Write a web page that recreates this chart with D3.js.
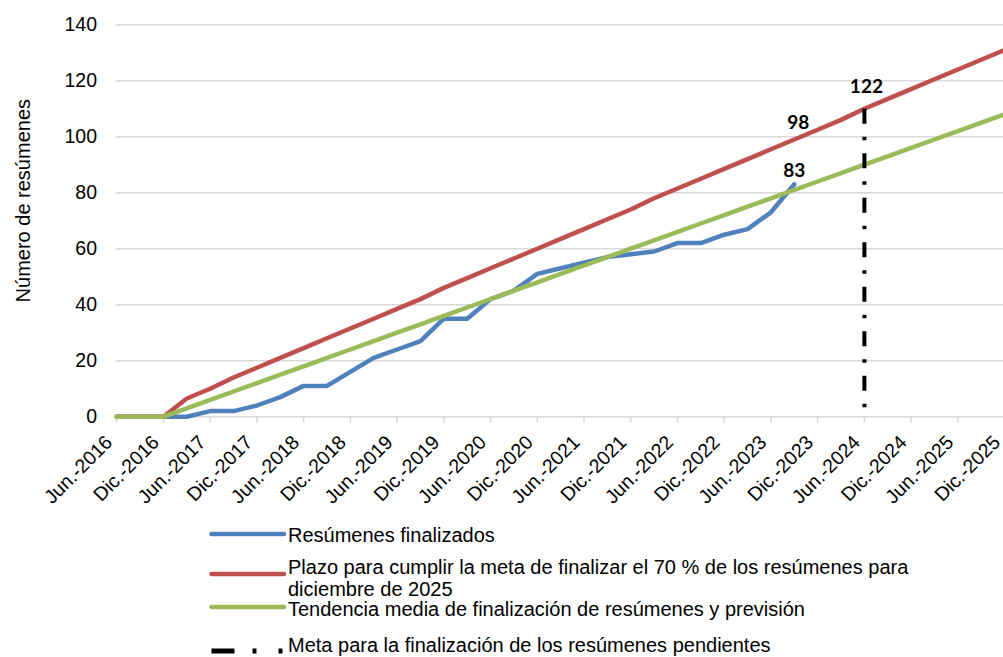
<!DOCTYPE html>
<html>
<head>
<meta charset="utf-8">
<script src="https://cdn.jsdelivr.net/npm/d3@7"></script>
<style>
  body { margin: 0; background: #fff; }
  text { font-family: "Liberation Sans", Arial, sans-serif; fill: #000; }
  .valLabel { font-family: Lato, "Liberation Sans", sans-serif; font-weight: bold; }
</style>
</head>
<body>
<div id="chart"></div>
<script>
const svgWidth = 1003;
const svgHeight = 657;

// tick labels every half year, data points every quarter (Jun.-2016 = index 0)
const tickLabels = ["Jun.-2016", "Dic.-2016", "Jun.-2017", "Dic.-2017", "Jun.-2018", "Dic.-2018",
  "Jun.-2019", "Dic.-2019", "Jun.-2020", "Dic.-2020", "Jun.-2021", "Dic.-2021", "Jun.-2022",
  "Dic.-2022", "Jun.-2023", "Dic.-2023", "Jun.-2024", "Dic.-2024", "Jun.-2025", "Dic.-2025"];

const finalizados = [0, 0, 0, 0, 2, 2, 4, 7, 11, 11, 16, 21, 24, 27, 35, 35, 42, 45, 51, 53,
  55, 57, 58, 59, 62, 62, 65, 67, 73, 83];

const plazo = [0, 0, 0, 6.5, 10, 14, 17.5, 21, 24.5, 28, 31.5, 35, 38.5, 42, 46, 49.5, 53, 56.5,
  60, 63.5, 67, 70.5, 74, 78, 81.5, 85, 88.5, 92, 95.5, 99, 102.5, 106, 110, 113.5, 117, 120.5,
  124, 127.5, 131];

const tendencia = [0, 0, 0, 3, 6, 9, 12, 15, 18, 21, 24, 27, 30, 33, 36, 39, 42, 45, 48, 51, 54,
  57, 60, 63, 66, 69, 72, 75, 78, 81, 84, 87, 90, 93, 96, 99, 102, 105, 108];

// vertical goal line (Jun.-2024)
const metaIdx = 32;
const metaTop = 110;

const yTicks = [0, 20, 40, 60, 80, 100, 120, 140];

const labelTexts = ["83", "98", "122"];
const labelIdx = [29, 29, 32];
const labelVals = [83, 99, 110];

const legendNames = [
  ["Resúmenes finalizados"],
  ["Plazo para cumplir la meta de finalizar el 70 % de los resúmenes para", "diciembre de 2025"],
  ["Tendencia media de finalización de resúmenes y previsión"],
  ["Meta para la finalización de los resúmenes pendientes"]
];

const colors = { blue: "#4F81BD", red: "#C0504D", green: "#9BBB59", black: "#000" };

const svg = d3.select("#chart")
  .append("svg")
  .attr("width", svgWidth)
  .attr("height", svgHeight);

const x = d3.scaleLinear()
  .domain([0, 38])
  .range([116.7, 1004.6]);

const y = d3.scaleLinear()
  .domain([0, 140])
  .range([416.7, 24.7]);

// gridlines
svg.append("g")
  .selectAll("line")
  .data(yTicks)
  .join("line")
  .attr("x1", 116)
  .attr("x2", svgWidth)
  .attr("y1", d => y(d))
  .attr("y2", d => y(d))
  .attr("stroke", "#d9d9d9")
  .attr("stroke-width", 1.5);

// y axis labels
const leftAxis = d3.axisLeft(y).tickValues(yTicks).tickSize(0).tickPadding(0);
const gy = svg.append("g")
  .attr("transform", "translate(97,0)")
  .call(leftAxis);
gy.select(".domain").remove();
gy.selectAll("text")
  .attr("font-size", "19.5px")
  .attr("font-family", "Liberation Sans, Arial, sans-serif")
  .attr("fill", "#000");

// x axis: tick marks + rotated labels
const tickIdx = tickLabels.map((d, i) => i * 2);
const gx = svg.append("g");
gx.selectAll("line")
  .data(tickIdx)
  .join("line")
  .attr("x1", d => x(d))
  .attr("x2", d => x(d))
  .attr("y1", y(0))
  .attr("y2", y(0) + 6)
  .attr("stroke", "#d9d9d9")
  .attr("stroke-width", 1.5);

gx.selectAll("text")
  .data(tickLabels)
  .join("text")
  .attr("transform", (d, i) => `translate(${x(i * 2) - 8}, ${y(0) + 22}) rotate(-45)`)
  .attr("text-anchor", "end")
  .attr("dy", "0.35em")
  .attr("font-size", "19.5px")
  .text(d => d);

// y axis title
svg.append("text")
  .attr("transform", `translate(30, ${(y(0) + y(140)) / 2 - 20}) rotate(-90)`)
  .attr("text-anchor", "middle")
  .attr("font-size", "20px")
  .text("Número de resúmenes");

// lines
const line = d3.line()
  .x((d, i) => x(i))
  .y(d => y(d));

const series = [
  { values: finalizados, color: colors.blue },
  { values: plazo, color: colors.red },
  { values: tendencia, color: colors.green }
];

svg.append("g")
  .selectAll("path")
  .data(series)
  .join("path")
  .attr("d", d => line(d.values))
  .attr("fill", "none")
  .attr("stroke", d => d.color)
  .attr("stroke-width", 4.5)
  .attr("stroke-linejoin", "round")
  .attr("stroke-linecap", "round");

// meta line (drawn top-down so the pattern starts with a dash)
svg.append("path")
  .attr("d", d3.line()([[x(metaIdx), y(metaTop)], [x(metaIdx), y(0)]]))
  .attr("stroke", colors.black)
  .attr("stroke-width", 4)
  .attr("stroke-dasharray", "15,13,3.5,13");

// value labels
const labelOffsets = [[0, -7], [4, -11], [2, -16]];
svg.append("g")
  .selectAll("text")
  .data(labelTexts)
  .join("text")
  .attr("class", "valLabel")
  .attr("x", (d, i) => x(labelIdx[i]) + labelOffsets[i][0])
  .attr("y", (d, i) => y(labelVals[i]) + labelOffsets[i][1])
  .attr("text-anchor", "middle")
  .attr("font-size", "19px")
  .text(d => d);

// legend
const legendY = [534, 574, 607, 651];
const legendTextY = [[542], [574, 596], [616], [652]];
const legendColors = [colors.blue, colors.red, colors.green, colors.black];

const legend = svg.append("g");
legendNames.forEach((names, i) => {
  const item = legend.append("g");
  item.append("line")
    .attr("x1", 211.5)
    .attr("x2", 284)
    .attr("y1", legendY[i])
    .attr("y2", legendY[i])
    .attr("stroke", legendColors[i])
    .attr("stroke-width", i === 3 ? 5 : 4.5)
    .attr("stroke-linecap", i === 3 ? "butt" : "round")
    .attr("stroke-dasharray", i === 3 ? "23,18,4,22,4" : null);
  names.forEach((t, j) => {
    item.append("text")
      .attr("x", 288)
      .attr("y", legendTextY[i][j])
      .attr("font-size", "20px")
      .text(t);
  });
});
</script>
</body>
</html>
